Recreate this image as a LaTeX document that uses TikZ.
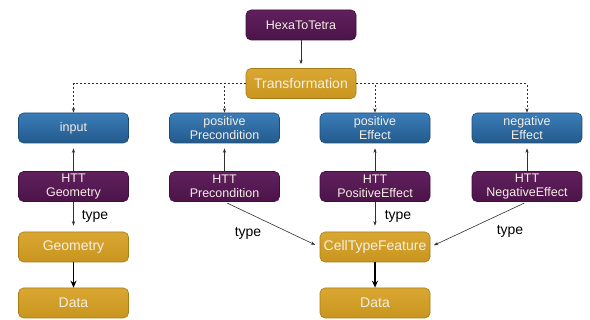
\documentclass[tikz,border=0pt]{standalone}
\usepackage{fontspec}
\setmainfont{Liberation Sans}
\usetikzlibrary{arrows.meta}
\definecolor{purpTop}{HTML}{60205E}
\definecolor{purpBot}{HTML}{4C1449}
\definecolor{purpEdge}{HTML}{3E0F3C}
\definecolor{blueTop}{HTML}{3A7DB8}
\definecolor{blueBot}{HTML}{235A8C}
\definecolor{blueEdge}{HTML}{1D4B76}
\definecolor{goldTop}{HTML}{DAA832}
\definecolor{goldBot}{HTML}{C8961F}
\definecolor{goldEdge}{HTML}{A77B16}
\definecolor{txtLight}{HTML}{F4EEE4}
\definecolor{lineGray}{HTML}{303030}
\tikzset{
  box/.style={rounded corners=5pt, minimum width=110pt, minimum height=30pt,
    inner sep=1pt, align=center, text=txtLight, line width=0.6pt},
  purplebox/.style={box, draw=purpEdge, top color=purpTop, bottom color=purpBot,
    font=\fontsize{12.5}{14}\selectfont},
  bluebox/.style={box, draw=blueEdge, top color=blueTop, bottom color=blueBot,
    font=\fontsize{12.5}{14}\selectfont},
  goldbox/.style={box, draw=goldEdge, top color=goldTop, bottom color=goldBot,
    font=\fontsize{14}{16}\selectfont},
  thinarrow/.style={draw=lineGray, line width=0.6pt, -{Stealth[length=4.5pt,width=3.2pt]}},
  dasharrow/.style={thinarrow, dash pattern=on 2pt off 2pt},
  thickarrow/.style={draw=black, line width=1.4pt, -{Stealth[length=7pt,width=6pt]}},
  typelabel/.style={font=\fontsize{14}{16}\selectfont, text=black, inner sep=0pt}
}
\begin{document}
\begin{tikzpicture}[x=1pt, y=-1pt]
  \useasboundingbox[fill=white] (0,0) rectangle (590,320);

  % top of the hierarchy
  \node[purplebox] (hexa)  at (301,25)   {HexaToTetra};
  \node[goldbox]   (trans) at (301,83.5) {Transformation};

  % parameter row
  \node[bluebox] (inp)  at (73.5,128) {input};
  \node[bluebox] (ppre) at (224.5,128) {positive\\Precondition};
  \node[bluebox] (peff) at (375,128) {positive\\Effect};
  \node[bluebox] (neff) at (527,128) {negative\\Effect};

  % HTT row
  \node[purplebox] (hgeo) at (73.5,186.5) {HTT\\Geometry};
  \node[purplebox] (hpre) at (224.5,186.5) {HTT\\Precondition};
  \node[purplebox] (hpos) at (375,186.5) {HTT\\PositiveEffect};
  \node[purplebox] (hneg) at (527,186.5) {HTT\\NegativeEffect};

  % types and data
  \node[goldbox] (geo)   at (73.5,247) {Geometry};
  \node[goldbox] (ctf)   at (375,247)  {CellTypeFeature};
  \node[goldbox] (data1) at (73.5,303) {Data};
  \node[goldbox] (data2) at (375,303)  {Data};

  % connectors
  \draw[thinarrow, shorten >=4pt] (hexa) -- (trans);
  \draw[dasharrow] (trans.west) -| (inp.north);
  \draw[dasharrow] (trans.west) -| (ppre.north);
  \draw[dasharrow] (trans.east) -| (peff.north);
  \draw[dasharrow] (trans.east) -| (neff.north);

  \draw[thinarrow, shorten >=5pt] (hgeo) -- (inp);
  \draw[thinarrow, shorten >=5pt] (hpre) -- (ppre);
  \draw[thinarrow, shorten >=5pt] (hpos) -- (peff);
  \draw[thinarrow, shorten >=5pt] (hneg) -- (neff);

  \draw[thinarrow, shorten >=6pt] (hgeo) -- (geo);
  \draw[thinarrow, shorten >=6pt] (hpos) -- (ctf);
  \draw[thinarrow, shorten <=3pt, shorten >=5pt] (hpre.south) -- (ctf.west);
  \draw[thinarrow, shorten <=3pt, shorten >=4pt] (hneg.south) -- (ctf.east);

  \draw[thickarrow] (geo) -- (data1);
  \draw[thickarrow] (ctf) -- (data2);

  % relation labels
  \node[typelabel] (t1) at (95,216)  {type};
  \node[typelabel] (t2) at (248,233) {type};
  \node[typelabel] (t3) at (398,216) {type};
  \node[typelabel] (t4) at (510,231) {type};
\end{tikzpicture}
\end{document}
